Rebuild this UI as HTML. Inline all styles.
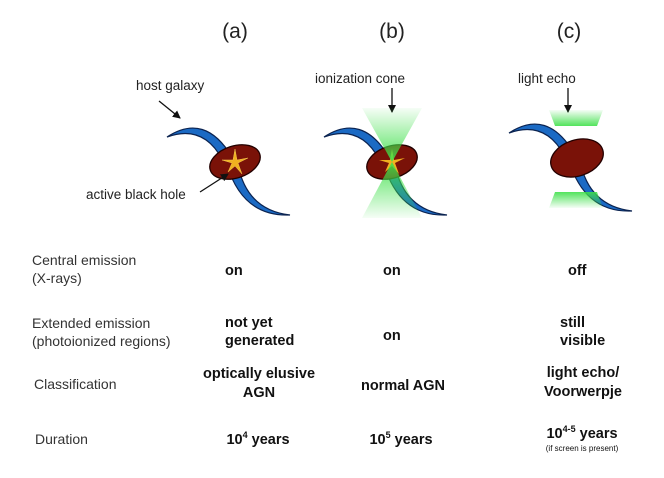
<!DOCTYPE html>
<html><head><style>html,body{margin:0;padding:0;background:#fff}svg{display:block}</style></head>
<body>
<svg width="664" height="478" viewBox="0 0 664 478" xmlns="http://www.w3.org/2000/svg" font-family="Liberation Sans, sans-serif">
<defs>
<marker id="ah" markerWidth="8" markerHeight="8" refX="7" refY="4" orient="auto" markerUnits="userSpaceOnUse"><path d="M0,0 L8,4 L0,8 Z" fill="#111"/></marker>
<linearGradient id="gup" x1="0" y1="1" x2="0" y2="0"><stop offset="0" stop-color="#3fe04a" stop-opacity="0.9"/><stop offset="1" stop-color="#3fe04a" stop-opacity="0.05"/></linearGradient>
<linearGradient id="gdn" x1="0" y1="0" x2="0" y2="1"><stop offset="0" stop-color="#3fe04a" stop-opacity="0.9"/><stop offset="1" stop-color="#3fe04a" stop-opacity="0.05"/></linearGradient>
<g id="arms">
<path d="M-68,-25 Q-30,-50 -3,-5 L-13,-3 Q-32,-38 -68,-25 Z" fill="#1b6ac4" stroke="#0b2350" stroke-width="1.2"/>
<path d="M3,3 Q12,48 55,53 Q8,55 -8,3 Z" fill="#1b6ac4" stroke="#0b2350" stroke-width="1.2"/>
</g>
</defs>
<g font-size="21" fill="#222" text-anchor="middle"><text x="235" y="38">(a)</text><text x="392" y="38">(b)</text><text x="569" y="38">(c)</text></g>
<g font-size="13.5" fill="#222">
<text x="136" y="90">host galaxy</text>
<text x="315" y="83">ionization cone</text>
<text x="518" y="83">light echo</text>
<text x="86" y="199">active black hole</text>
</g>
<g stroke="#111" stroke-width="1.3" fill="none" marker-end="url(#ah)">
<line x1="159" y1="101" x2="180" y2="118"/>
<line x1="392" y1="88" x2="392" y2="112"/>
<line x1="568" y1="88" x2="568" y2="112"/>
</g>
<!-- (a) -->
<g transform="translate(235,162)"><use href="#arms"/>
<ellipse cx="0" cy="0" rx="26" ry="16" transform="rotate(-18)" fill="#7a1208" stroke="#200" stroke-width="1.3"/>
<path d="M0,-13 L2,-2 L13,-4 L3,1 L7,12 L0,4 L-7,10 L-3,1 L-13,-2 L-2,-2 Z" fill="#f0b020" stroke="#f7c850" stroke-width="0.5"/></g>
<line x1="200" y1="192" x2="228" y2="174" stroke="#111" stroke-width="1.3" marker-end="url(#ah)"/>
<!-- (b) -->
<g transform="translate(392,162)"><use href="#arms"/>
<ellipse cx="0" cy="0" rx="26" ry="16" transform="rotate(-18)" fill="#7a1208" stroke="#200" stroke-width="1.3"/>
<path d="M0,-13 L2,-2 L13,-4 L3,1 L7,12 L0,4 L-7,10 L-3,1 L-13,-2 L-2,-2 Z" fill="#f0b020"/>
<path d="M0,0 L-30,-54 L30,-54 Z" fill="url(#gup)"/>
<path d="M0,0 L-30,56 L30,56 Z" fill="url(#gdn)"/></g>
<!-- (c) -->
<g transform="translate(577,158)"><use href="#arms"/>
<ellipse cx="0" cy="0" rx="27" ry="18" transform="rotate(-18)" fill="#7a1208" stroke="#200" stroke-width="1.3"/>
<path d="M-22,-32 L20,-32 L26,-48 L-28,-48 Z" fill="url(#gup)"/>
<path d="M-22,34 L20,34 L26,50 L-28,50 Z" fill="url(#gdn)"/></g>
<g font-size="14" fill="#333">
<text x="32" y="265">Central emission</text><text x="32" y="283">(X-rays)</text>
<text x="32" y="328">Extended emission</text><text x="32" y="346">(photoionized regions)</text>
<text x="34" y="389">Classification</text>
<text x="35" y="444">Duration</text>
</g>
<g font-size="14.5" font-weight="bold" fill="#111">
<text x="225" y="275">on</text><text x="383" y="275">on</text><text x="568" y="275">off</text>
<text x="225" y="327">not yet</text><text x="225" y="345">generated</text>
<text x="383" y="340">on</text>
<text x="560" y="327">still</text><text x="560" y="345">visible</text>
<g text-anchor="middle">
<text x="259" y="378">optically elusive</text><text x="259" y="397">AGN</text>
<text x="403" y="390">normal AGN</text>
<text x="583" y="377">light echo/</text><text x="583" y="396">Voorwerpje</text>
<text x="258" y="444">10<tspan font-size="9" dy="-6">4</tspan><tspan dy="6"> years</tspan></text>
<text x="401" y="444">10<tspan font-size="9" dy="-6">5</tspan><tspan dy="6"> years</tspan></text>
<text x="582" y="438">10<tspan font-size="9" dy="-6">4-5</tspan><tspan dy="6"> years</tspan></text>
<text x="582" y="451" font-size="8" font-weight="normal">(if screen is present)</text>
</g></g>
</svg>
</body></html>
